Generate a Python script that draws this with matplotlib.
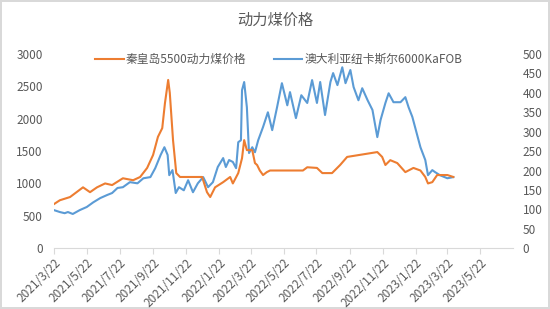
import matplotlib
matplotlib.use("Agg")
import matplotlib.pyplot as plt
import pandas as pd

plt.rcParams['font.family'] = ['Noto Sans CJK SC', 'DejaVu Sans']

# 秦皇岛5500动力煤价格 (left axis, 元/吨)
qhd_dates = ["2021-03-22", "2021-04-02", "2021-04-21", "2021-05-15", "2021-05-28", "2021-06-10",
             "2021-06-25", "2021-07-08", "2021-07-28", "2021-08-16", "2021-08-29", "2021-09-11",
             "2021-09-22", "2021-10-01", "2021-10-09", "2021-10-14", "2021-10-20", "2021-10-23",
             "2021-10-29", "2021-11-04", "2021-11-11", "2021-12-22", "2021-12-31", "2022-01-06",
             "2022-01-15", "2022-01-30", "2022-02-12", "2022-02-17", "2022-02-27", "2022-03-06",
             "2022-03-10", "2022-03-15", "2022-03-25", "2022-03-30", "2022-04-03", "2022-04-08",
             "2022-04-14", "2022-04-21", "2022-04-27", "2022-06-27", "2022-07-05", "2022-07-23",
             "2022-08-02", "2022-08-20", "2022-09-04", "2022-09-17", "2022-11-12", "2022-11-21",
             "2022-11-27", "2022-12-06", "2022-12-19", "2023-01-03", "2023-01-18", "2023-01-31",
             "2023-02-09", "2023-02-14", "2023-02-22", "2023-03-03", "2023-03-22", "2023-04-02"]
qhd_price = [680, 740, 790, 940, 865, 940,
             1000, 975, 1080, 1050, 1100, 1240,
             1440, 1720, 1855, 2240, 2600, 2400,
             1670, 1160, 1100, 1100, 865, 790,
             940, 1020, 1100, 1000, 1160, 1390,
             1670, 1515, 1515, 1315, 1285, 1200,
             1130, 1175, 1200, 1200, 1250, 1240,
             1160, 1160, 1285, 1410, 1485, 1410,
             1285, 1360, 1315, 1175, 1240, 1200,
             1100, 1000, 1020, 1130, 1130, 1100]

# 澳大利亚纽卡斯尔6000KaFOB (right axis, 美元/吨)
nc_dates = ["2021-03-22", "2021-04-02", "2021-04-11", "2021-04-17", "2021-04-26", "2021-05-09",
            "2021-05-22", "2021-06-03", "2021-06-16", "2021-06-29", "2021-07-08", "2021-07-18",
            "2021-07-28", "2021-08-10", "2021-08-24", "2021-09-04", "2021-09-17", "2021-09-26",
            "2021-10-06", "2021-10-13", "2021-10-19", "2021-10-22", "2021-10-28", "2021-11-03",
            "2021-11-09", "2021-11-18", "2021-11-26", "2021-12-05", "2021-12-14", "2021-12-24",
            "2022-01-02", "2022-01-11", "2022-01-20", "2022-01-30", "2022-02-04", "2022-02-10",
            "2022-02-17", "2022-02-23", "2022-02-27", "2022-03-04", "2022-03-06", "2022-03-10",
            "2022-03-15", "2022-03-19", "2022-03-25", "2022-03-30", "2022-04-05", "2022-04-14",
            "2022-04-23", "2022-05-01", "2022-05-10", "2022-05-19", "2022-05-29", "2022-06-03",
            "2022-06-14", "2022-06-24", "2022-07-05", "2022-07-14", "2022-07-23", "2022-07-29",
            "2022-08-07", "2022-08-17", "2022-08-22", "2022-08-30", "2022-09-08", "2022-09-14",
            "2022-09-23", "2022-09-29", "2022-10-08", "2022-10-15", "2022-10-25", "2022-11-03",
            "2022-11-12", "2022-11-18", "2022-11-27", "2022-12-03", "2022-12-12", "2022-12-25",
            "2023-01-03", "2023-01-09", "2023-01-16", "2023-01-26", "2023-01-31", "2023-02-09",
            "2023-02-14", "2023-02-22", "2023-02-27", "2023-03-08", "2023-03-22", "2023-04-02"]
nc_price = [98, 93, 90, 93, 88, 98,
            106, 118, 129, 137, 142, 155,
            157, 170, 167, 180, 183, 206,
            240, 260, 240, 188, 201, 142,
            157, 149, 175, 144, 167, 183,
            157, 170, 209, 232, 209, 227,
            222, 206, 273, 278, 407, 428,
            363, 245, 260, 247, 278, 312,
            350, 304, 363, 425, 368, 402,
            335, 394, 374, 433, 374, 428,
            343, 428, 451, 420, 466, 425,
            459, 415, 381, 412, 381, 356,
            286, 330, 374, 399, 376, 376,
            389, 363, 338, 286, 260, 227,
            188, 201, 196, 188, 180, 183]

left_ticks = [0, 500, 1000, 1500, 2000, 2500, 3000]
right_ticks = [0, 50, 100, 150, 200, 250, 300, 350, 400, 450, 500]

orange = '#ED7D31'
blue = '#5B9BD5'
gray = '#595959'

fig = plt.figure(figsize=(5.5, 3.09), dpi=100)
fig.patch.set_edgecolor('#d9d9d9')
fig.patch.set_linewidth(1.5)
ax = fig.add_axes([0.098, 0.197, 0.835, 0.628])
ax2 = ax.twinx()

l1, = ax.plot(pd.to_datetime(qhd_dates), qhd_price, color=orange, lw=1.5,
              label='秦皇岛5500动力煤价格')
l2, = ax2.plot(pd.to_datetime(nc_dates), nc_price, color=blue, lw=1.5,
               label='澳大利亚纽卡斯尔6000KaFOB')
ax.set_zorder(ax2.get_zorder() + 1)
ax.patch.set_visible(False)

ax.set_ylim(0, 3000)
ax2.set_ylim(0, 500)
ax.set_yticks(left_ticks)
ax2.set_yticks(right_ticks)

ticks = pd.date_range("2021-03-22", "2023-05-22", freq=pd.DateOffset(months=2))
ax.set_xlim(pd.Timestamp("2021-03-22"), pd.Timestamp("2023-07-22"))
ax.set_xticks(ticks)
ax.set_xticklabels([f"{d.year}/{d.month}/{d.day}" for d in ticks], rotation=45,
                   ha='right', rotation_mode='anchor')

for a in (ax, ax2):
    for s in a.spines.values():
        s.set_visible(False)
    a.tick_params(axis='y', length=0, labelsize=8.5, labelcolor=gray)
ax.spines['bottom'].set_visible(True)
ax.spines['bottom'].set_color('#d9d9d9')
ax.tick_params(axis='x', length=4, color='#d9d9d9', labelsize=8.5, labelcolor=gray, pad=2)
ax.tick_params(axis='y', pad=8)
ax2.tick_params(axis='y', pad=7)

ax.legend(handles=[l1, l2], loc='upper center', bbox_to_anchor=(0.49, 1.06), ncol=2,
          frameon=False, fontsize=8.5, labelcolor=gray, handlelength=2.4,
          handletextpad=0.2, columnspacing=2.3)

fig.text(0.5, 0.935, '动力煤价格', ha='center', va='center', fontsize=11, color=gray)

fig.savefig('out.png', dpi=100)
